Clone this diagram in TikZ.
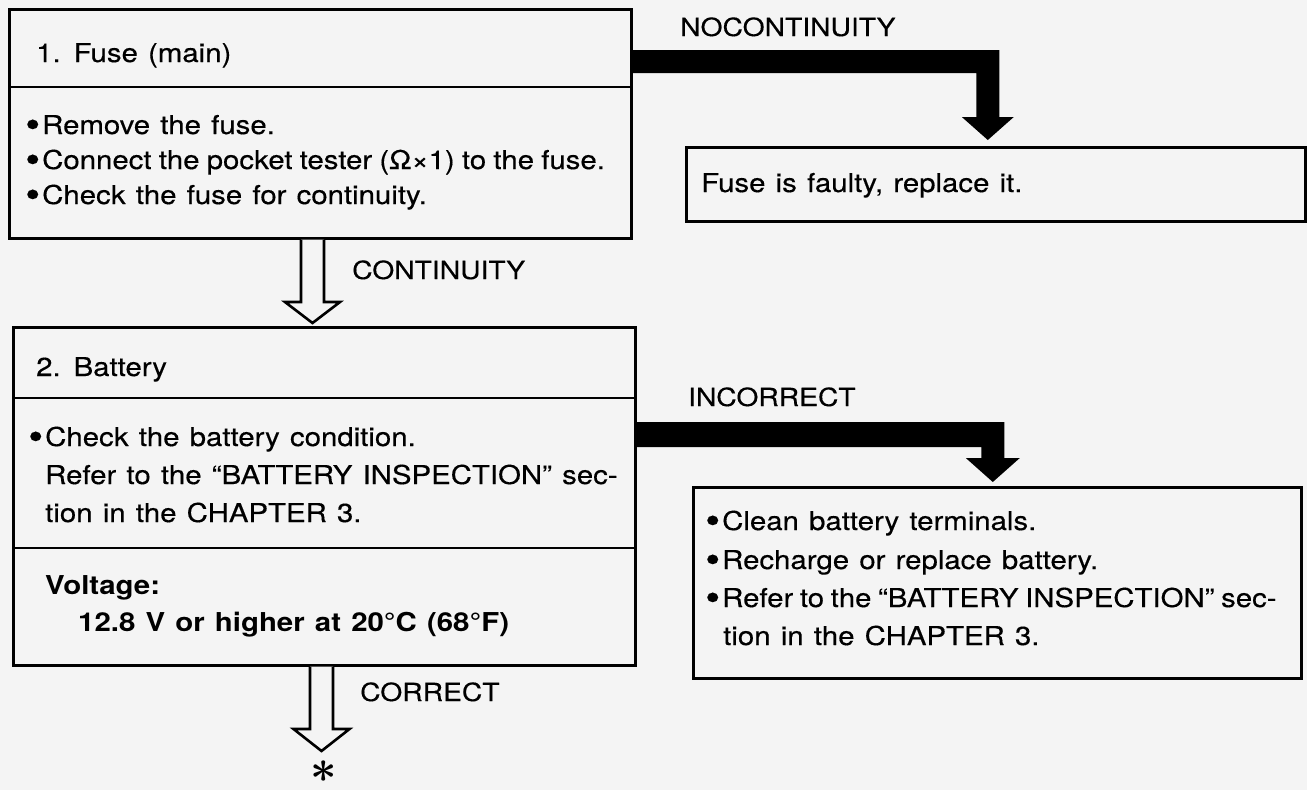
\documentclass[tikz,border=0pt]{standalone}
\usepackage{fontspec}
\usepackage{graphicx}
\setmainfont{TeX Gyre Heros}[FakeStretch=1.13, WordSpace=1.25, UprightFeatures={FakeBold=0.35}]
\usetikzlibrary{calc}
\definecolor{paper}{gray}{0.955}
\newcommand\blt{\makebox[17pt][l]{\raisebox{-3.5pt}{\fontsize{38}{38}\selectfont •}}}
\begin{document}
\begin{tikzpicture}[x=1pt,y=-1pt,
  box/.style={draw=black, line width=2.6pt, anchor=north west, inner sep=0pt, fill=paper},
  divider/.style={line width=2.6pt},
  txt/.style={anchor=base west, inner sep=0pt, font=\fontsize{26}{31}\selectfont},
  btxt/.style={txt, font=\fontsize{26}{31}\selectfont\bfseries},
  lbl/.style={anchor=base west, inner sep=0pt, font=\fontsize{25}{30}\selectfont},
  solidarrow/.style={fill=black, draw=none},
  hollowarrow/.style={draw=black, line width=2.6pt, fill=paper, line join=miter},
]
\fill[paper] (0,0) rectangle (1307,790);
\useasboundingbox (0,0) rectangle (1307,790);

% boxes
\node[box, minimum width=622pt, minimum height=229pt] (b1) at (8,8) {};
\node[box, minimum width=622pt, minimum height=338pt] (b2) at (12,326) {};
\node[box, minimum width=619pt, minimum height=74pt] (r1) at (685,146) {};
\node[box, minimum width=608pt, minimum height=191pt] (r2) at (692,486) {};

% dividers
\draw[divider] (b1.west |- 0,87) -- (b1.east |- 0,87);
\draw[divider] (b2.west |- 0,398) -- (b2.east |- 0,398);
\draw[divider] (b2.west |- 0,548) -- (b2.east |- 0,548);

% box 1 text
\node[txt] (t11) at (36,62) {1. Fuse (main)};
\node[txt] (t12) at (25,134) {\blt Remove the fuse.};
\node[txt] (t13) at (25,169) {\spaceskip=7.2pt\blt Connect the pocket tester (Ω×1) to the fuse.};
\node[txt] (t14) at (25,204) {\blt Check the fuse for continuity.};

% box 2 text
\node[txt] (t21) at (36,376) {2. Battery};
\node[txt] (t22) at (28,446) {\blt Check the battery condition.};
\node[txt] (t23) at (45,484) {Refer to the ``BATTERY INSPECTION'' sec-};
\node[txt] (t24) at (45,522) {tion in the CHAPTER 3.};
\node[btxt] (t25) at (45,594) {Voltage:};
\node[btxt] (t26) at (78,631) {12.8 V or higher at 20°C (68°F)};

% right box texts
\node[txt] (r11) at (701,192) {Fuse is faulty, replace it.};
\node[txt] (r21) at (705,530) {\blt Clean battery terminals.};
\node[txt] (r22) at (705,569) {\blt Recharge or replace battery.};
\node[txt] (r23) at (705,607) {\spaceskip=6.6pt\blt Refer to the ``BATTERY INSPECTION'' sec-};
\node[txt] (r24) at (723,645) {tion in the CHAPTER 3.};

% labels
\node[lbl] (l1) at (680,36) {NOCONTINUITY};
\node[lbl] (l2) at (352,279) {CONTINUITY};
\node[lbl] (l3) at (688,406) {INCORRECT};
\node[lbl] (l4) at (360,701) {CORRECT};
\node[inner sep=0pt] (ast) at (324,772) {\scalebox{4.6}{\boldmath$\ast$}};

% solid arrows
\coordinate (k1) at ([xshift=-8pt,yshift=6pt]r1.north);
\fill[solidarrow] (b1.east |- 0,50) -- ([xshift=11.5pt]k1 |- 0,50)
  -- ([xshift=11.5pt,yshift=23pt]k1) -- ([xshift=26pt,yshift=23pt]k1) -- (k1)
  -- ([xshift=-26pt,yshift=23pt]k1) -- ([xshift=-11.5pt,yshift=23pt]k1)
  -- ([xshift=-11.5pt]k1 |- 0,73) -- (b1.east |- 0,73) -- cycle;
\coordinate (k2) at ([xshift=-4.5pt,yshift=4pt]r2.north);
\fill[solidarrow] (b2.east |- 0,422) -- ([xshift=11.5pt]k2 |- 0,422)
  -- ([xshift=11.5pt,yshift=24pt]k2) -- ([xshift=27pt,yshift=24pt]k2) -- (k2)
  -- ([xshift=-27pt,yshift=24pt]k2) -- ([xshift=-11.5pt,yshift=24pt]k2)
  -- ([xshift=-11.5pt]k2 |- 0,447) -- (b2.east |- 0,447) -- cycle;

% hollow arrows
\coordinate (h1) at (312.5,323);
\draw[hollowarrow] ([xshift=-11.5pt]h1 |- b1.south) -- ([xshift=-11.5pt,yshift=21pt]h1)
  -- ([xshift=-27.5pt,yshift=21pt]h1) -- (h1) -- ([xshift=27.5pt,yshift=21pt]h1)
  -- ([xshift=11.5pt,yshift=21pt]h1) -- ([xshift=11.5pt]h1 |- b1.south);
\coordinate (h2) at (321.5,751);
\draw[hollowarrow] ([xshift=-11.5pt]h2 |- b2.south) -- ([xshift=-11.5pt,yshift=22pt]h2)
  -- ([xshift=-28pt,yshift=22pt]h2) -- (h2) -- ([xshift=28pt,yshift=22pt]h2)
  -- ([xshift=11.5pt,yshift=22pt]h2) -- ([xshift=11.5pt]h2 |- b2.south);
\end{tikzpicture}
\end{document}
